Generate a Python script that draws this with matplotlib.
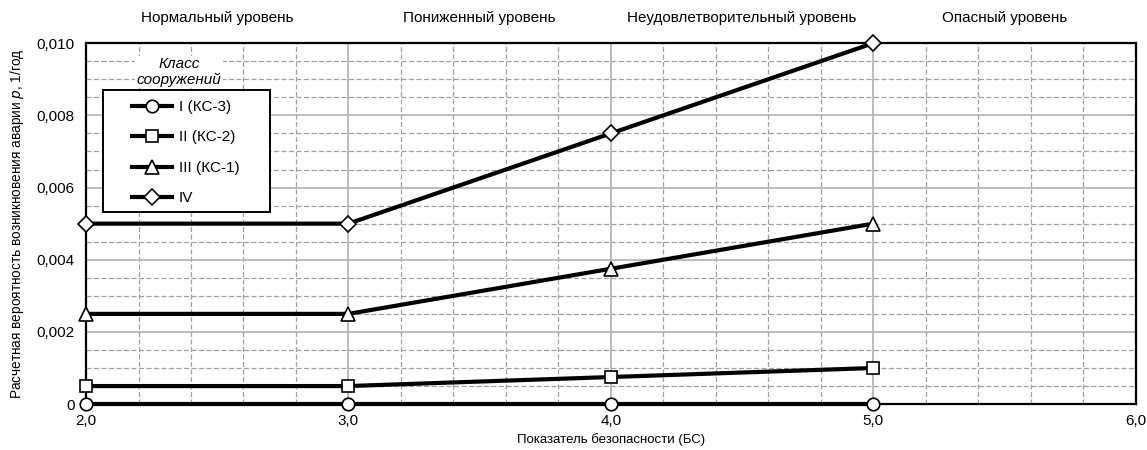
import matplotlib
matplotlib.use('Agg')
import matplotlib.pyplot as plt
from matplotlib.ticker import MultipleLocator, FuncFormatter
from matplotlib.patches import Rectangle

plt.rcParams['font.family'] = ['Liberation Sans', 'DejaVu Sans']

bs = [2.0, 3.0, 4.0, 5.0]
p_ks3 = [0, 0, 0, 0]
p_ks2 = [0.0005, 0.0005, 0.00075, 0.001]
p_ks1 = [0.0025, 0.0025, 0.00375, 0.005]
p_iv = [0.005, 0.005, 0.0075, 0.010]
series = [p_ks3, p_ks2, p_ks1, p_iv]
names = ['I (КС-3)', 'II (КС-2)', 'III (КС-1)', 'IV']
markers = ['o', 's', '^', 'D']
msizes = [9, 9, 10, 8]

levels = ['Нормальный уровень', 'Пониженный уровень',
          'Неудовлетворительный уровень', 'Опасный уровень']
level_pos = [2.5, 3.5, 4.5, 5.5]

fig = plt.figure(figsize=(11.47, 4.5), dpi=100)
ax = fig.add_axes([0.075, 0.102, 0.915, 0.802])

for vals, name, m, ms in zip(series, names, markers, msizes):
    ax.plot(bs, vals, color='black', lw=3, marker=m, ms=ms,
            mfc='white', mec='black', mew=1.2, label=name, clip_on=False, zorder=5)

ax.set_xlim(2, 6)
ax.set_ylim(0, 0.010)
ax.xaxis.set_major_locator(MultipleLocator(1))
ax.xaxis.set_minor_locator(MultipleLocator(0.2))
ax.yaxis.set_major_locator(MultipleLocator(0.002))
ax.yaxis.set_minor_locator(MultipleLocator(0.0005))
ax.xaxis.set_major_formatter(FuncFormatter(lambda v, _: f'{v:.1f}'.replace('.', ',')))
ax.yaxis.set_major_formatter(FuncFormatter(lambda v, _: '0' if abs(v) < 1e-9 else f'{v:.3f}'.replace('.', ',')))
ax.grid(which='major', color='#b0b0b0', lw=1.2, ls='-')
ax.grid(which='minor', color='#a0a0a0', lw=0.9, ls=(0, (4, 2)))
ax.tick_params(which='both', length=0, labelsize=11)
ax.tick_params(axis='x', pad=7)
ax.tick_params(axis='y', pad=8)
for s in ax.spines.values():
    s.set_linewidth(1.6)

ax.set_xlabel('Показатель безопасности (БС)', fontsize=9.5, labelpad=4)
ax.set_ylabel('Расчетная вероятность возникновения аварии $p$, 1/год', fontsize=9.8, labelpad=8)

for x, t in zip(level_pos, levels):
    ax.text(x, 1.069, t, transform=ax.get_xaxis_transform(), ha='center', va='center', fontsize=11)

# legend frame drawn separately so it can have wider side margins
ax.add_patch(Rectangle((0.016, 0.532), 0.159, 0.338, transform=ax.transAxes, facecolor='white',
                       edgecolor='black', lw=1.4, zorder=9))
leg = ax.legend(loc='upper left', bbox_to_anchor=(0.036, 0.866), frameon=False, fontsize=11,
                handlelength=2.6, handletextpad=0.45, borderpad=0.55, labelspacing=1.08,
                borderaxespad=0)
leg.set_zorder(10)
ax.text(0.0886, 0.920, 'Класс\nсооружений', transform=ax.transAxes, ha='center', va='center',
        fontsize=11, style='italic', linespacing=1.15,
        bbox=dict(facecolor='white', edgecolor='none', pad=1), zorder=9)

fig.savefig('out.png', dpi=100)
